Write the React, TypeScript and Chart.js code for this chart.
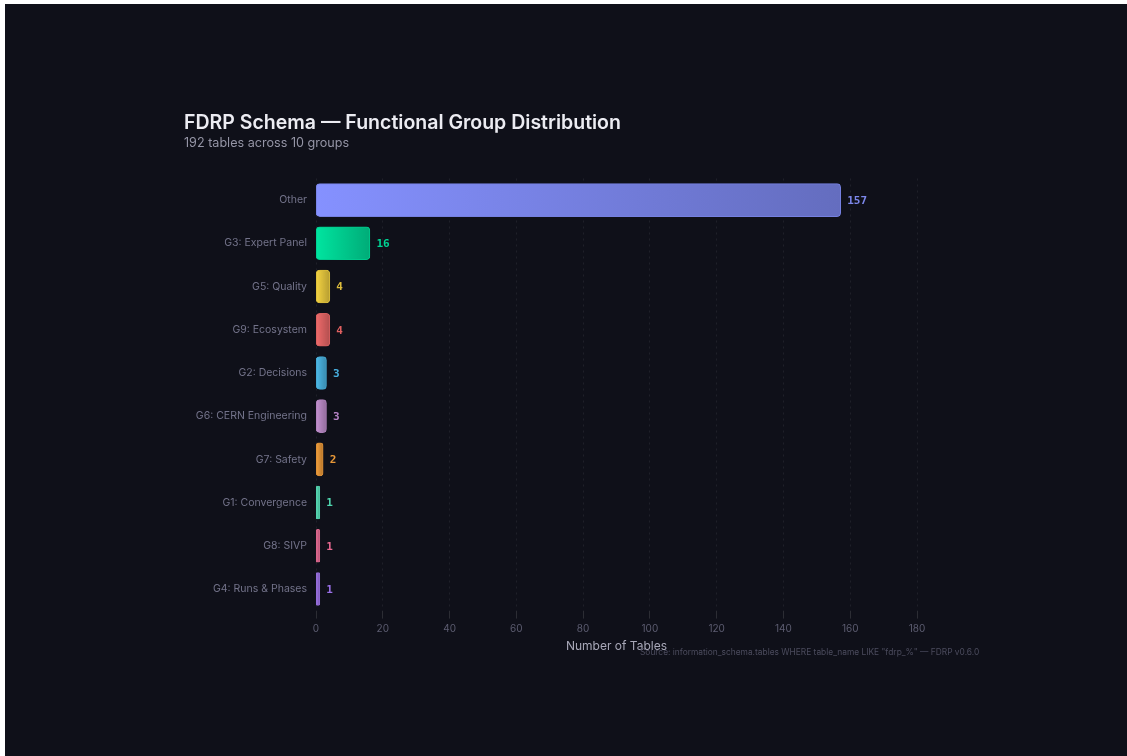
import React, { useEffect, useRef } from "react";
import { Chart, registerables } from "chart.js";

Chart.register(...registerables);

const categories = [
  "Other",
  "G3: Expert Panel",
  "G5: Quality",
  "G9: Ecosystem",
  "G2: Decisions",
  "G6: CERN Engineering",
  "G7: Safety",
  "G1: Convergence",
  "G8: SIVP",
  "G4: Runs & Phases",
];
const tableCounts = [157, 16, 4, 4, 3, 3, 2, 1, 1, 1];
const barColors = [
  "#8591ff",
  "#00e5a0",
  "#f5d442",
  "#f06b6b",
  "#4dbbea",
  "#c592d2",
  "#f5a03c",
  "#5ce8c0",
  "#f0709a",
  "#a478f0",
];
const labelColors = [
  "#7c87ea",
  "#00d494",
  "#dcbc3c",
  "#e06060",
  "#48b0e0",
  "#b884c8",
  "#e89838",
  "#50d8b0",
  "#e86890",
  "#9a70e8",
];
const xTicks = [0, 20, 40, 60, 80, 100, 120, 140, 160, 180];

const FONT = "Inter, 'Noto Sans', sans-serif";

function darken(hex: string, f: number) {
  const n = parseInt(hex.slice(1), 16);
  const r = Math.round(((n >> 16) & 255) * f);
  const g = Math.round(((n >> 8) & 255) * f);
  const b = Math.round((n & 255) * f);
  return `rgb(${r},${g},${b})`;
}

const valueLabelPlugin = {
  id: "valueLabels",
  afterDatasetsDraw(chart: any) {
    const ctx = chart.ctx;
    const meta = chart.getDatasetMeta(0);
    const xs = chart.scales.x;
    ctx.save();
    ctx.font = "bold 11px 'DejaVu Sans Mono', monospace";
    ctx.textAlign = "left";
    ctx.textBaseline = "middle";
    meta.data.forEach((bar: any, i: number) => {
      const v = tableCounts[i];
      ctx.fillStyle = labelColors[i];
      ctx.fillText(String(v), xs.getPixelForValue(v) + 7, bar.y + 1);
    });
    ctx.restore();
  },
};

export default function App() {
  const ref = useRef<HTMLCanvasElement | null>(null);

  useEffect(() => {
    if (!ref.current) return;
    const chart = new Chart(ref.current, {
      type: "bar",
      data: {
        labels: categories,
        datasets: [
          {
            data: tableCounts,
            backgroundColor: (c: any) => {
              const i = c.dataIndex ?? 0;
              const ch = c.chart;
              const xs = ch.scales && ch.scales.x;
              if (!xs) return barColors[i];
              const x0 = xs.getPixelForValue(0);
              const x1 = Math.max(xs.getPixelForValue(tableCounts[i]), x0 + 1);
              if (!isFinite(x0) || !isFinite(x1)) return barColors[i];
              const g = ch.ctx.createLinearGradient(x0, 0, x1, 0);
              g.addColorStop(0, barColors[i]);
              g.addColorStop(1, darken(barColors[i], 0.75));
              return g;
            },
            borderColor: (c: any) => darken(barColors[c.dataIndex ?? 0], 0.88),
            borderWidth: 1,
            borderSkipped: false,
            borderRadius: 4,
            inflateAmount: 0.8,
            barPercentage: 0.74,
            categoryPercentage: 1,
          },
        ],
      },
      options: {
        indexAxis: "y",
        animation: false,
        responsive: false,
        maintainAspectRatio: false,
        layout: { padding: { left: 161, right: 210, top: 174.5, bottom: 95.4 } },
        plugins: {
          legend: { display: false },
          tooltip: { enabled: false },
          title: { display: false },
        },
        scales: {
          x: {
            type: "linear",
            min: 0,
            max: 180,
            afterBuildTicks: (s: any) => {
              s.ticks = xTicks.map((v) => ({ value: v }));
            },
            afterFit: (s: any) => {
              s.height = 50;
            },
            border: { display: false, dash: [2, 4] },
            grid: {
              color: "rgba(255,255,255,0.07)",
              tickColor: "rgba(255,255,255,0.12)",
              tickLength: 8,
              drawTicks: true,
            },
            ticks: {
              color: "#5c5c70",
              font: { family: FONT, size: 10 },
              padding: 4,
            },
            title: {
              display: true,
              text: "Number of Tables",
              color: "#a8a8b8",
              font: { family: FONT, size: 12 },
              padding: { top: 1, bottom: 7 },
            },
          },
          y: {
            afterFit: (s: any) => {
              s.width = 150;
            },
            border: { display: false },
            grid: { display: false, drawTicks: false },
            ticks: {
              color: "#73738a",
              font: { family: FONT, size: 10.5 },
              padding: 9,
            },
          },
        },
      },
      plugins: [valueLabelPlugin],
    } as any);
    return () => chart.destroy();
  }, []);

  return (
    <div
      style={{
        position: "absolute",
        left: 5,
        top: 4,
        width: 1122,
        height: 752,
        background: "#0f1019",
        fontFamily: FONT,
      }}
    >
      <canvas
        ref={ref}
        width={1122}
        height={752}
        style={{ position: "absolute", left: 0, top: 0, width: 1122, height: 752 }}
      />
      <div
        style={{
          position: "absolute",
          left: 179,
          top: 107,
          fontSize: 19.5,
          fontWeight: 600,
          color: "#ececf2",
          whiteSpace: "nowrap",
          lineHeight: "22px",
        }}
      >
        FDRP Schema — Functional Group Distribution
      </div>
      <div
        style={{
          position: "absolute",
          left: 179,
          top: 131,
          fontSize: 12.6,
          color: "#9595a6",
          whiteSpace: "nowrap",
          lineHeight: "16px",
        }}
      >
        192 tables across 10 groups
      </div>
      <div
        style={{
          position: "absolute",
          left: 635,
          top: 642,
          fontSize: 8.4,
          color: "#4c4c5e",
          whiteSpace: "nowrap",
          lineHeight: "12px",
        }}
      >
        Source: information_schema.tables WHERE table_name LIKE "fdrp_%" — FDRP v0.6.0
      </div>
    </div>
  );
}
